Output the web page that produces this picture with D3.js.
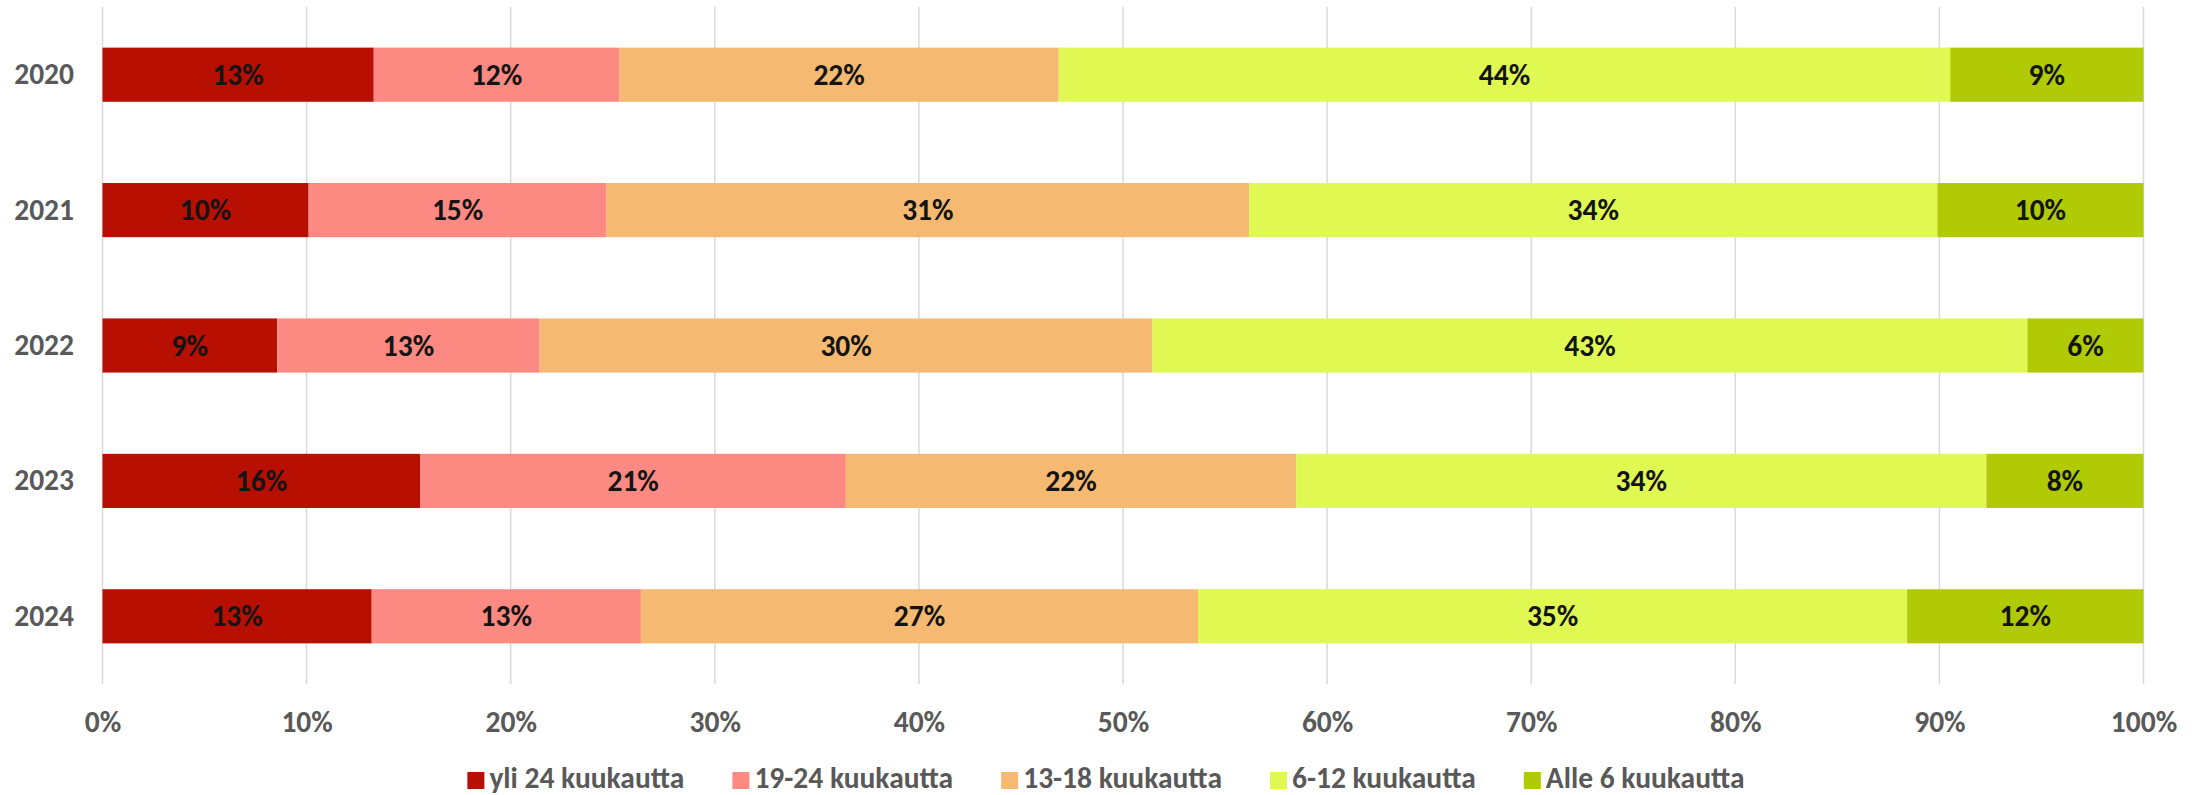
<!DOCTYPE html>
<html>
<head>
<meta charset="utf-8">
<script src="https://cdn.jsdelivr.net/npm/d3@7"></script>
<style>
  body { margin: 0; background: #fff; }
  svg text { font-family: Carlito, Calibri, Lato, "Open Sans", sans-serif; font-weight: bold; }
</style>
</head>
<body>
<svg id="chart" width="2203" height="795"></svg>
<script>
// share of cases by duration, per year (fractions of 1)
const years = ['2020', '2021', '2022', '2023', '2024'];
const seriesNames = ['yli 24 kuukautta', '19-24 kuukautta', '13-18 kuukautta', '6-12 kuukautta', 'Alle 6 kuukautta'];
const colors = ['#B71002', '#FC8982', '#F5B972', '#DFF852', '#B0CB05'];

const yli24 = [0.1329, 0.1010, 0.0856, 0.1558, 0.1319];
const m19_24 = [0.1204, 0.1460, 0.1286, 0.2084, 0.1319];
const m13_18 = [0.2152, 0.3148, 0.3003, 0.2207, 0.2730];
const m6_12 = [0.4368, 0.3372, 0.4286, 0.3381, 0.3474];
const alle6 = [0.0947, 0.1010, 0.0569, 0.0770, 0.1158];

const xTicks = [0, 0.1, 0.2, 0.3, 0.4, 0.5, 0.6, 0.7, 0.8, 0.9, 1];

const seriesValues = [yli24, m19_24, m13_18, m6_12, alle6];
const rows = years.map((y, i) => {
  const r = { year: y };
  seriesNames.forEach((s, j) => { r[s] = seriesValues[j][i]; });
  return r;
});

const fs = 29.5;
const svg = d3.select('#chart');
const x = d3.scaleLinear().domain([0, 1]).range([102.5, 2143.5]);
const y = d3.scaleBand().domain(years).range([7, 684]).paddingInner(0.6).paddingOuter(0.3);

// gridlines
svg.append('g')
  .selectAll('line')
  .data(xTicks)
  .join('line')
  .attr('x1', d => x(d)).attr('x2', d => x(d))
  .attr('y1', 7).attr('y2', 684)
  .attr('stroke', '#D9D9D9')
  .attr('stroke-width', 1.5);

const layers = d3.stack().keys(seriesNames)(rows);

svg.append('g')
  .selectAll('g')
  .data(layers)
  .join('g')
  .attr('fill', (d, i) => colors[i])
  .selectAll('rect')
  .data(d => d)
  .join('rect')
  .attr('x', d => x(d[0]))
  .attr('width', d => x(d[1]) - x(d[0]))
  .attr('y', d => y(d.data.year))
  .attr('height', y.bandwidth());

const pct = d3.format('.0%');

// data labels
svg.append('g')
  .selectAll('g')
  .data(layers)
  .join('g')
  .selectAll('text')
  .data(d => d)
  .join('text')
  .attr('x', d => (x(d[0]) + x(d[1])) / 2)
  .attr('y', d => y(d.data.year) + y.bandwidth() / 2)
  .attr('text-anchor', 'middle')
  .attr('dominant-baseline', 'central')
  .attr('font-size', fs)
  .attr('fill', '#141414')
  .text(d => pct(d[1] - d[0]));

// y axis labels
svg.append('g')
  .attr('transform', 'translate(74,0)')
  .call(d3.axisLeft(y).tickSize(0).tickPadding(0))
  .call(g => g.select('.domain').remove())
  .attr('font-family', null).attr('font-size', null)
  .selectAll('text')
  .attr('font-size', fs)
  .attr('fill', '#595959');

// x axis labels
svg.append('g')
  .attr('transform', 'translate(0,711)')
  .call(d3.axisBottom(x).tickValues(xTicks).tickFormat(pct).tickSize(0).tickPadding(0))
  .call(g => g.select('.domain').remove())
  .attr('font-family', null).attr('font-size', null)
  .selectAll('text')
  .attr('font-size', fs)
  .attr('fill', '#595959');

// legend
const legend = svg.append('g');
const items = legend.selectAll('g')
  .data(seriesNames)
  .join('g');
items.append('rect')
  .attr('width', 17).attr('height', 17)
  .attr('y', -16)
  .attr('fill', (d, i) => colors[i]);
items.append('text')
  .attr('x', 22)
  .attr('font-size', fs)
  .attr('fill', '#595959')
  .text(d => d);

let pos = 0;
items.each(function () {
  const g = d3.select(this);
  const w = g.select('text').node().getComputedTextLength();
  g.attr('transform', `translate(${pos},0)`);
  pos += 22 + w + 48;
});
const legendWidth = pos - 48;
legend.attr('transform', `translate(${1106 - legendWidth / 2},788)`);
</script>
</body>
</html>
